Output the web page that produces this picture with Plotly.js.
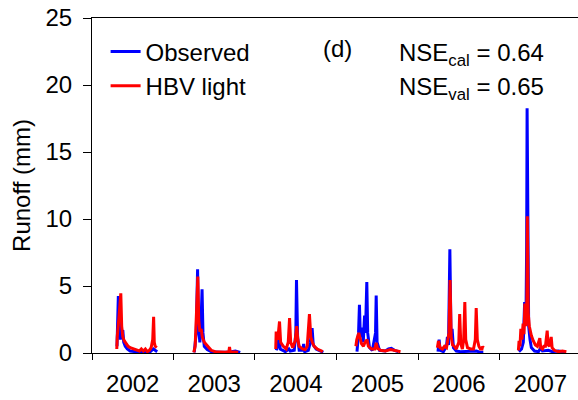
<!DOCTYPE html>
<html>
<head>
<meta charset="utf-8">
<script src="https://cdn.plot.ly/plotly-3.0.1.min.js"></script>
<style>html,body{margin:0;padding:0;background:#fff}#chart{width:578px;height:400px}</style>
</head>
<body>
<div id="chart"></div>
<script>
// Observed runoff (mm); null separates seasons
const obsDates = [
  "2002-04-23","2002-04-26","2002-04-29","2002-05-03","2002-05-08","2002-05-12","2002-05-19","2002-05-23","2002-05-30","2002-06-08","2002-06-21","2002-07-14","2002-08-05","2002-08-28","2002-09-19","2002-10-03","2002-10-11","2002-10-20","2002-12-31",
  "2003-04-04","2003-04-13","2003-04-19","2003-04-23","2003-04-29","2003-05-03","2003-05-09","2003-05-13","2003-05-19","2003-06-01","2003-06-19","2003-07-30","2003-09-12","2003-10-05","2003-10-27","2003-12-31",
  "2004-04-05","2004-04-14","2004-04-19","2004-04-23","2004-05-16","2004-06-01","2004-06-07","2004-06-25","2004-07-02","2004-07-05","2004-07-10","2004-07-17","2004-08-02","2004-08-06","2004-08-11","2004-08-27","2004-09-05","2004-09-13","2004-09-18","2004-10-01","2004-10-19","2004-11-02","2004-12-31",
  "2005-04-02","2005-04-09","2005-04-13","2005-04-17","2005-04-24","2005-04-30","2005-05-06","2005-05-10","2005-05-16","2005-05-20","2005-05-28","2005-06-10","2005-06-24","2005-06-27","2005-07-01","2005-07-12","2005-08-07","2005-08-21","2005-09-03","2005-09-17","2005-10-05","2005-12-31",
  "2006-03-31","2006-04-05","2006-04-09","2006-04-24","2006-05-08","2006-05-12","2006-05-17","2006-05-23","2006-05-28","2006-06-02","2006-06-08","2006-06-21","2006-07-09","2006-08-01","2006-08-23","2006-09-19","2006-10-07","2006-10-20","2006-12-31",
  "2007-03-28","2007-04-09","2007-04-17","2007-04-23","2007-04-29","2007-05-02","2007-05-04","2007-05-08","2007-05-11","2007-05-17","2007-05-23","2007-06-06","2007-06-24","2007-07-05","2007-07-12","2007-08-07","2007-08-25","2007-09-21","2007-10-23"
];
const obsRunoff = [
  0.5,3.0,4.25,3.5,1.0,1.5,1.7,0.8,0.5,0.3,0.15,0.1,0.05,0.05,0.1,0.3,0.2,0.1,null,
  0.05,1.5,6.25,2.0,0.8,1.5,4.75,1.5,0.5,0.25,0.1,0.05,0.08,0.15,0.05,null,
  0.2,0.6,1.5,0.3,0.1,0.3,0.15,0.2,1.5,5.45,1.2,0.2,0.2,0.67,0.1,0.2,0.8,1.85,0.6,0.3,0.15,0.05,null,
  0.1,1.5,3.6,1.2,1.9,0.8,2.8,1.5,5.3,1.5,0.4,0.2,1.5,4.28,0.8,0.2,0.15,0.3,0.35,0.2,0.1,null,
  0.1,1.0,0.2,0.1,0.5,1.2,0.6,7.74,1.5,1.8,0.4,0.15,0.1,0.1,0.1,0.15,0.05,0.05,null,
  0.1,0.3,0.8,3.8,2.5,8.0,18.26,6.0,2.0,1.0,0.4,0.15,0.1,0.4,0.15,0.2,0.1,0.15,0.05
];

// HBV light simulated runoff (mm)
const simDates = [
  "2002-04-22","2002-04-24","2002-05-01","2002-05-10","2002-05-14","2002-05-19","2002-05-26","2002-06-04","2002-06-12","2002-06-21","2002-07-05","2002-07-18","2002-08-01","2002-08-10","2002-08-19","2002-08-28","2002-09-06","2002-09-15","2002-09-23","2002-09-30","2002-10-04","2002-10-07","2002-10-11","2002-10-18","2002-12-31",
  "2003-04-02","2003-04-08","2003-04-14","2003-04-20","2003-04-24","2003-04-29","2003-05-05","2003-05-10","2003-05-19","2003-05-28","2003-06-06","2003-06-19","2003-07-07","2003-07-30","2003-08-21","2003-09-06","2003-09-09","2003-09-12","2003-10-05","2003-10-18","2003-12-31",
  "2004-04-03","2004-04-05","2004-04-12","2004-04-20","2004-04-25","2004-05-07","2004-05-20","2004-05-29","2004-06-04","2004-06-09","2004-06-18","2004-06-29","2004-07-06","2004-07-11","2004-07-17","2004-08-01","2004-08-13","2004-08-22","2004-09-01","2004-09-07","2004-09-14","2004-09-22","2004-10-06","2004-10-19","2004-10-31","2004-12-31",
  "2005-03-28","2005-04-01","2005-04-10","2005-04-15","2005-04-22","2005-05-01","2005-05-08","2005-05-17","2005-05-23","2005-06-06","2005-06-21","2005-06-27","2005-07-03","2005-07-16","2005-08-07","2005-08-30","2005-09-12","2005-09-26","2005-10-14","2005-12-31",
  "2006-03-28","2006-04-02","2006-04-09","2006-04-20","2006-04-29","2006-05-08","2006-05-19","2006-05-24","2006-05-29","2006-06-04","2006-06-12","2006-06-21","2006-07-02","2006-07-06","2006-07-11","2006-07-18","2006-07-24","2006-07-29","2006-08-02","2006-08-10","2006-08-23","2006-09-06","2006-09-14","2006-09-18","2006-09-23","2006-09-30","2006-10-07","2006-10-14","2006-10-17","2006-10-20","2006-12-31",
  "2007-03-26","2007-03-29","2007-04-02","2007-04-06","2007-04-11","2007-04-16","2007-04-20","2007-04-24","2007-04-29","2007-05-03","2007-05-05","2007-05-09","2007-05-14","2007-05-23","2007-06-01","2007-06-10","2007-06-19","2007-06-26","2007-06-30","2007-07-04","2007-07-12","2007-07-18","2007-07-25","2007-08-02","2007-08-06","2007-08-12","2007-08-20","2007-08-24","2007-09-03","2007-09-21","2007-10-09","2007-10-27"
];
const simRunoff = [
  0.3,1.2,2.5,4.45,2.0,1.2,0.9,0.7,0.5,0.4,0.3,0.2,0.15,0.3,0.15,0.3,0.1,0.2,0.4,1.0,2.7,0.8,0.5,0.4,null,
  0.05,0.5,3.0,5.7,2.5,1.6,1.8,1.2,0.8,0.6,0.4,0.2,0.1,0.05,0.05,0.1,0.45,0.1,0.05,0.05,null,
  0.3,1.6,1.0,2.35,0.8,0.5,0.3,0.8,2.6,0.8,0.4,0.9,2.0,1.0,0.5,0.3,0.25,0.5,2.9,1.2,0.8,0.5,0.3,0.2,0.1,null,
  0.5,1.0,1.5,1.2,0.7,0.5,0.8,1.0,0.5,0.3,0.3,0.75,0.35,0.2,0.15,0.25,0.2,0.15,0.1,null,
  0.4,0.9,0.4,0.3,0.5,0.4,1.5,5.45,1.2,0.6,0.5,0.3,0.8,2.9,0.7,0.3,1.0,3.8,1.0,0.4,0.3,0.3,1.0,3.35,1.0,0.5,0.3,0.3,0.5,0.4,null,
  0.2,0.9,0.5,1.8,1.0,2.2,1.4,3.7,2.0,4.0,10.2,3.0,2.0,1.3,0.9,0.6,0.5,0.8,1.1,0.4,0.3,0.5,0.5,1.67,0.6,0.5,1.2,0.4,0.2,0.1,0.15,0.1
];

const seriesNames = ["Observed", "HBV light"];
const seriesColors = ["#0000ff", "#ff0000"];
const yTicks = [0, 5, 10, 15, 20, 25];
const nseCal = "0.64";
const nseVal = "0.65";

const FONT = "Arial, 'Liberation Sans', sans-serif";

const traces = [
  {x: obsDates, y: obsRunoff, name: seriesNames[0], type: "scatter", mode: "lines",
   line: {color: seriesColors[0], width: 3}, connectgaps: false},
  {x: simDates, y: simRunoff, name: seriesNames[1], type: "scatter", mode: "lines",
   line: {color: seriesColors[1], width: 3}, connectgaps: false}
];

const layout = {
  width: 578, height: 400,
  margin: {l: 92, r: 0, t: 18, b: 47, pad: 0},
  paper_bgcolor: "#fff", plot_bgcolor: "#fff",
  font: {family: FONT, size: 24, color: "#000"},
  showlegend: true,
  legend: {x: 0.028, y: 0.966, xanchor: "left", yanchor: "top",
           bgcolor: "rgba(0,0,0,0)", borderwidth: 0, font: {size: 24}},
  xaxis: {
    type: "date", range: ["2002-01-01", "2007-12-18"],
    tick0: "2002-01-01", dtick: "M12", tickformat: "%Y", ticklabelmode: "period",
    ticks: "outside", ticklen: 6, tickwidth: 1, tickcolor: "#000", ticklabelstandoff: 3,
    showline: true, linecolor: "#000", linewidth: 1, mirror: true,
    showgrid: false, zeroline: false, tickfont: {size: 24}
  },
  yaxis: {
    range: [0, 25], tickvals: yTicks,
    ticks: "outside", ticklen: 8, tickwidth: 1, tickcolor: "#000", ticklabelstandoff: 6,
    showline: true, linecolor: "#000", linewidth: 1,
    showgrid: false, zeroline: false, tickfont: {size: 24},
    title: {text: "Runoff (mm)", font: {size: 24}, standoff: 8}
  },
  annotations: [
    {xref: "paper", yref: "paper", x: 0.5046, y: 0.908, xanchor: "center", yanchor: "middle",
     text: "(d)", showarrow: false, font: {size: 24}},
    {xref: "paper", yref: "paper", x: 0.628, y: 0.891, xanchor: "left", yanchor: "middle",
     text: "NSE<sub>cal</sub> = " + nseCal, showarrow: false, font: {size: 24}},
    {xref: "paper", yref: "paper", x: 0.628, y: 0.789, xanchor: "left", yanchor: "middle",
     text: "NSE<sub>val</sub> = " + nseVal, showarrow: false, font: {size: 24}}
  ]
};

Plotly.newPlot("chart", traces, layout, {displayModeBar: false, staticPlot: true});
</script>
</body>
</html>
